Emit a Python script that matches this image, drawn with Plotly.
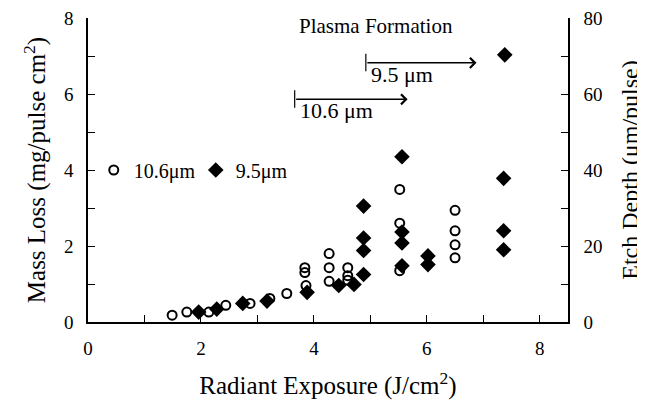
import plotly.graph_objects as go

# 10.6 um data (open circles)
x_106 = [1.49, 1.75, 2.14, 2.44, 2.87, 3.22, 3.52, 3.84, 3.84, 3.86,
         4.27, 4.27, 4.27, 4.60, 4.60, 4.60, 5.52, 5.52, 5.52,
         6.50, 6.50, 6.50, 6.50]
y_106 = [0.18, 0.26, 0.26, 0.44, 0.49, 0.62, 0.75, 1.43, 1.30, 0.96,
         1.80, 1.43, 1.07, 1.43, 1.22, 1.10, 3.49, 2.60, 1.35,
         2.94, 2.40, 2.03, 1.69]

# 9.5 um data (filled diamonds)
x_95 = [1.96, 2.28, 2.74, 3.17, 3.88, 4.44, 4.71, 4.88, 4.88, 4.88, 4.88,
        5.56, 5.56, 5.56, 5.56, 6.02, 6.02, 7.36, 7.36, 7.36, 7.38]
y_95 = [0.26, 0.34, 0.49, 0.55, 0.78, 0.96, 0.99, 3.05, 2.21, 1.88, 1.25,
        4.35, 2.37, 2.08, 1.48, 1.74, 1.51, 3.78, 2.40, 1.90, 7.03]

# plasma formation thresholds: start, end, level, label
thr_start = [4.92, 3.66]
thr_end = [6.88, 5.66]
thr_level = [6.82, 5.86]
thr_label = ["9.5 μm", "10.6 μm"]

FONT = "Liberation Serif"

fig = go.Figure()
fig.add_trace(go.Scatter(
    x=x_106, y=y_106, mode="markers", name="10.6μm",
    marker=dict(symbol="circle-open", size=9, color="black",
                line=dict(width=2, color="black")),
))
fig.add_trace(go.Scatter(
    x=x_95, y=y_95, mode="markers", name="9.5μm",
    marker=dict(symbol="diamond", size=12, color="black"),
))
# etch depth axis (same points, 10x scale) so the right axis is drawn
fig.add_trace(go.Scatter(
    x=x_95, y=[v * 10 for v in y_95], yaxis="y2", mode="markers",
    marker=dict(opacity=0), showlegend=False, hoverinfo="skip",
))

for start, end, lvl, label in zip(thr_start, thr_end, thr_level, thr_label):
    fig.add_annotation(
        x=end, y=lvl, ax=start, ay=lvl, xref="x", yref="y", axref="x", ayref="y",
        text="", showarrow=True, arrowhead=4, arrowsize=1.3, arrowwidth=1.5,
        arrowcolor="black",
    )
    fig.add_shape(type="line", x0=start, x1=start, y0=lvl - 0.22, y1=lvl + 0.24,
                  xref="x", yref="y", line=dict(color="black", width=1.2))
    fig.add_annotation(
        x=start + 0.06, y=lvl - 0.3, xref="x", yref="y", text=label,
        showarrow=False, xanchor="left", font=dict(size=22, color="black"),
    )

fig.add_annotation(
    x=3.70, y=7.78, xref="x", yref="y", text="Plasma Formation",
    showarrow=False, xanchor="left", font=dict(size=21, color="black"),
)

axis_common = dict(
    showline=True, linecolor="black", linewidth=1.5, showgrid=False,
    zeroline=False, ticks="inside", ticklen=7, tickcolor="black",
    tickfont=dict(size=19, color="black"), automargin=False,
    ticklabeloverflow="allow",
)

# page body adds an 8px offset, so the figure is sized 8px smaller
fig.update_layout(
    width=637, height=399,
    margin=dict(l=80, r=77, t=10, b=85),
    paper_bgcolor="white", plot_bgcolor="white",
    font=dict(family=FONT, color="black"),
    showlegend=True,
    legend=dict(orientation="h", x=0.012, y=0.5, xanchor="left",
                yanchor="middle", font=dict(size=20), bgcolor="rgba(0,0,0,0)",
                itemwidth=30, entrywidth=57),
    xaxis=dict(
        range=[0, 8.5], dtick=2, tick0=0,
        minor=dict(dtick=1, ticks="inside", ticklen=7, tickcolor="black"),
        title=dict(text="Radiant Exposure (J/cm<sup>2</sup>)",
                   font=dict(size=25), standoff=19),
        ticklabelstandoff=8,
        **axis_common,
    ),
    yaxis=dict(
        range=[0, 8], dtick=2, tick0=0,
        minor=dict(dtick=1, ticks="inside", ticklen=7, tickcolor="black"),
        title=dict(text="Mass Loss (mg/pulse cm<sup>2</sup>)",
                   font=dict(size=25), standoff=11),
        ticklabelstandoff=9,
        **axis_common,
    ),
    yaxis2=dict(
        range=[0, 80], dtick=20, tick0=0, overlaying="y", side="right",
        minor=dict(dtick=10, ticks="inside", ticklen=7, tickcolor="black"),
        title=dict(text="Etch Depth (μm/pulse)", font=dict(size=24),
                   standoff=20),
        ticklabelstandoff=10,
        **axis_common,
    ),
)

fig.write_html("out.html")
